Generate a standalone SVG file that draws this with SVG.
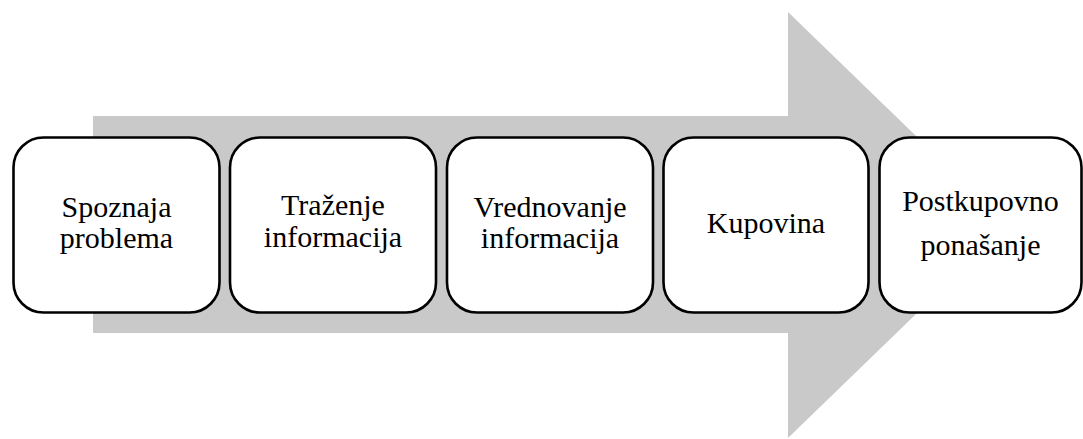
<svg xmlns="http://www.w3.org/2000/svg" width="1083" height="439" viewBox="0 0 1083 439">
<style>
.box{fill:#fff;stroke:#000;stroke-width:2.6}
.t{font-size:30px;fill:#000;text-anchor:middle}
</style>
<rect width="1083" height="439" fill="#fff"/>
<g id="arrow">
<polygon points="93,116 788,116 788,12 1008,225 788,438 788,333 93,333" fill="#c9c9c9"/>
</g>
<g id="connectors"></g>
<g font-family="Liberation Serif, Times New Roman, DejaVu Serif, serif">
<g id="n1"><rect class="box" x="13.5" y="137.5" width="206" height="175" rx="30"/>
<text class="t" x="116.5" y="216.5">Spoznaja</text><text class="t" x="116.5" y="248">problema</text></g>
<g id="n2"><rect class="box" x="230" y="137.5" width="206" height="175" rx="30"/>
<text class="t" x="333" y="215">Traženje</text><text class="t" x="333" y="246.5">informacija</text></g>
<g id="n3"><rect class="box" x="447" y="137.5" width="206" height="175" rx="30"/>
<text class="t" x="550" y="216.5">Vrednovanje</text><text class="t" x="550" y="248">informacija</text></g>
<g id="n4"><rect class="box" x="663.5" y="137.5" width="205" height="175" rx="30"/>
<text class="t" x="766" y="233">Kupovina</text></g>
<g id="n5"><rect class="box" x="879.5" y="137.5" width="202" height="175" rx="30"/>
<text class="t" x="980.5" y="210.5">Postkupovno</text><text class="t" x="980.5" y="255">ponašanje</text></g>
</g>
</svg>
